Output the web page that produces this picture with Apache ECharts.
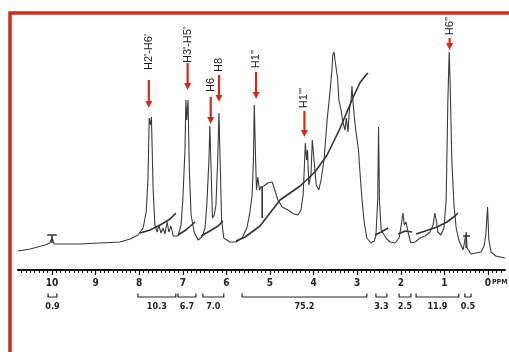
<!DOCTYPE html>
<html>
<head>
<meta charset="utf-8">
<script src="https://cdn.jsdelivr.net/npm/echarts@6/dist/echarts.min.js"></script>
<style>
html, body { margin: 0; padding: 0; background: #fff; }
#chart { width: 509px; height: 352px; }
</style>
</head>
<body>
<div id="chart"></div>
<script>
// 1H NMR trace, [ppm, intensity]
const spectrum = [
  [10.78, 19], [10.5, 21], [10.16, 25], [10.05, 27], [10.0, 32], [9.95, 26], [9.82, 26],
  [9.36, 26], [8.9, 27], [8.44, 28], [8.21, 31], [8.03, 35], [7.91, 42], [7.84, 58],
  [7.8, 90], [7.77, 152], [7.74, 145], [7.72, 153], [7.68, 80], [7.64, 45], [7.59, 38],
  [7.55, 45], [7.5, 37], [7.45, 42], [7.41, 36], [7.36, 48], [7.32, 38], [7.27, 44],
  [7.22, 34], [7.18, 32], [7.11, 34], [7.04, 45], [7.0, 70], [6.95, 120], [6.93, 170],
  [6.91, 150], [6.88, 170], [6.85, 100], [6.81, 55], [6.74, 38], [6.65, 30], [6.56, 33],
  [6.49, 42], [6.45, 65], [6.4, 110], [6.38, 144], [6.35, 100], [6.32, 52], [6.28, 55],
  [6.24, 65], [6.2, 110], [6.17, 157], [6.15, 120], [6.11, 50], [6.06, 32], [5.92, 28],
  [5.78, 28], [5.64, 32], [5.53, 42], [5.46, 58], [5.41, 75], [5.38, 110], [5.36, 165],
  [5.33, 110], [5.31, 80], [5.28, 93], [5.24, 80], [5.21, 83], [5.14, 84], [5.05, 87],
  [4.95, 88], [4.89, 80], [4.82, 70], [4.72, 63], [4.59, 60], [4.45, 56], [4.36, 55],
  [4.29, 60], [4.24, 75], [4.21, 105], [4.19, 127], [4.16, 110], [4.14, 120], [4.11, 85],
  [4.06, 95], [4.03, 130], [3.99, 110], [3.94, 85], [3.88, 80], [3.83, 90], [3.76, 110],
  [3.69, 150], [3.62, 180], [3.58, 200], [3.56, 215], [3.53, 218], [3.51, 210], [3.49, 212],
  [3.45, 192], [3.42, 170], [3.37, 160], [3.33, 148], [3.28, 140], [3.25, 152], [3.21, 138],
  [3.18, 160], [3.14, 170], [3.12, 184], [3.1, 170], [3.07, 155], [3.04, 142], [3.0, 140],
  [2.97, 120], [2.94, 100], [2.89, 70], [2.84, 48], [2.78, 32], [2.68, 27], [2.61, 29],
  [2.57, 35], [2.53, 70], [2.51, 143], [2.49, 70], [2.45, 40], [2.41, 42], [2.34, 32],
  [2.25, 28], [2.13, 27], [2.04, 32], [2.0, 42], [1.95, 57], [1.92, 45], [1.88, 48],
  [1.83, 37], [1.77, 27], [1.67, 28], [1.56, 32], [1.44, 34], [1.33, 38], [1.26, 45],
  [1.22, 57], [1.18, 48], [1.15, 38], [1.08, 35], [1.01, 42], [0.96, 70], [0.94, 120],
  [0.92, 170], [0.89, 218], [0.87, 190], [0.85, 150], [0.83, 110], [0.78, 65], [0.73, 42],
  [0.67, 30], [0.57, 20], [0.53, 22], [0.5, 38], [0.48, 22], [0.39, 16], [0.28, 17],
  [0.16, 18], [0.09, 24], [0.05, 35], [0.01, 63], [-0.02, 30], [-0.07, 18], [-0.18, 14],
  [-0.39, 12]
];

// integral trace pieces drawn over the spectrum
const integralSegments = [
  [[10.11, 35], [9.89, 35]],
  [[10.0, 35], [10.0, 27]],
  [[7.98, 37], [7.75, 40], [7.52, 45], [7.29, 51], [7.16, 57]],
  [[7.11, 35], [6.93, 40], [6.72, 48]],
  [[6.58, 34], [6.38, 39], [6.19, 44], [6.08, 49]],
  [[5.78, 29], [5.57, 33], [5.23, 44], [4.77, 70], [4.31, 84], [3.97, 98], [3.69, 115],
   [3.39, 142], [3.1, 172], [2.94, 187], [2.8, 195], [2.75, 197]],
  [[5.18, 83], [5.18, 52]],
  [[2.59, 35], [2.45, 38], [2.29, 42]],
  [[2.06, 36], [1.9, 39], [1.74, 38]],
  [[1.65, 36], [1.44, 39], [1.17, 43], [0.94, 48], [0.76, 54], [0.69, 57]],
  [[0.57, 34], [0.41, 34]],
  [[0.5, 34], [0.5, 22]]
];

const integralFrom = [10.09, 8.03, 7.11, 6.54, 5.64, 2.57, 2.04, 1.65, 0.53];
const integralTo = [9.89, 7.16, 6.7, 6.06, 2.78, 2.32, 1.77, 0.67, 0.39];
const integralValues = ['0.9', '10.3', '6.7', '7.0', '75.2', '3.3', '2.5', '11.9', '0.5'];

const peakLabels = ["H2'-H6'", "H3'-H5'", 'H6', 'H8', "H1''", "H1'''", "H6''"];
const peakPpm = [7.78, 6.89, 6.36, 6.17, 5.32, 4.21, 0.88];

const ppmTicks = [10, 9, 8, 7, 6, 5, 4, 3, 2, 1, 0];

// label centre / arrow start / arrow tip, in intensity units
const annoLayout = [
  [218, 190, 162],
  [225, 207, 180],
  [185, 173, 146],
  [205, 195, 168],
  [211, 198, 171],
  [172, 159, 133],
  [244, 232, 220]
];

const RED = '#d42a1a';
const SCALE_FONT = "'DejaVu Sans Condensed', 'DejaVu Sans', sans-serif";

const minorTicks = [];
for (let v = 107; v >= -3; v--) minorTicks.push(v / 10);

const chart = echarts.init(document.getElementById('chart'));

const integralSeries = integralSegments.map((seg) => ({
  type: 'line',
  data: seg,
  showSymbol: false,
  silent: true,
  lineStyle: { color: '#333', width: 1.6 },
  z: 3
}));

const option = {
  animation: false,
  backgroundColor: '#fff',
  grid: { left: 18, right: 4, top: 20, bottom: 82 },
  xAxis: [
    {
      type: 'value',
      inverse: true,
      min: -0.39,
      max: 10.78,
      axisLine: { lineStyle: { color: '#111', width: 2 } },
      axisTick: { customValues: ppmTicks, length: 5, lineStyle: { color: '#111', width: 1.2 } },
      axisLabel: {
        customValues: ppmTicks,
        margin: 8,
        color: '#222',
        fontFamily: SCALE_FONT,
        fontWeight: 'bold',
        fontSize: 10
      },
      splitLine: { show: false }
    },
    {
      type: 'value',
      inverse: true,
      position: 'bottom',
      min: -0.39,
      max: 10.78,
      axisLine: { show: false },
      axisTick: { customValues: minorTicks, length: 3, lineStyle: { color: '#111', width: 1 } },
      axisLabel: { show: false },
      splitLine: { show: false }
    }
  ],
  yAxis: { type: 'value', min: 0, max: 250, show: false },
  graphic: [
    {
      type: 'polyline',
      shape: { points: [[10, 352], [10, 13], [509, 13]] },
      style: { stroke: RED, lineWidth: 3.5, fill: null }
    },
    {
      type: 'text',
      left: 492,
      top: 279,
      style: { text: 'PPM', fill: '#222', font: "bold 7px 'DejaVu Sans Condensed', 'DejaVu Sans'" }
    }
  ],
  series: [
    {
      type: 'line',
      data: spectrum,
      showSymbol: false,
      silent: true,
      lineStyle: { color: '#3a3a3a', width: 1.1 },
      z: 2
    },
    ...integralSeries,
    {
      // integration brackets under the axis
      type: 'custom',
      silent: true,
      data: integralFrom.map((f, i) => [f, integralTo[i]]),
      encode: { x: [0, 1] },
      renderItem: (params, api) => {
        const a = api.coord([api.value(0), -27]);
        const b = api.coord([api.value(1), -27]);
        const up = api.coord([0, -23.5])[1];
        const ty = api.coord([0, -37])[1];
        return {
          type: 'group',
          children: [
            {
              type: 'polyline',
              shape: { points: [[a[0], up], [a[0], a[1]], [b[0], b[1]], [b[0], up]] },
              style: { stroke: '#222', lineWidth: 1.2, fill: null }
            },
            {
              type: 'text',
              x: (a[0] + b[0]) / 2,
              y: ty,
              style: {
                text: integralValues[params.dataIndex],
                fill: '#222',
                font: "bold 9px 'DejaVu Sans Condensed', 'DejaVu Sans'",
                align: 'center',
                verticalAlign: 'middle'
              }
            }
          ]
        };
      }
    },
    {
      // peak assignments with red arrows
      type: 'custom',
      silent: true,
      data: peakPpm.map((p) => [p, 0]),
      encode: { x: 0 },
      renderItem: (params, api) => {
        const i = params.dataIndex;
        const ppm = api.value(0);
        const lay = annoLayout[i];
        const p = api.coord([ppm, lay[0]]);
        const yTop = api.coord([ppm, lay[1]])[1];
        const yTip = api.coord([ppm, lay[2]])[1];
        const x = p[0];
        return {
          type: 'group',
          children: [
            {
              type: 'text',
              x: x,
              y: p[1],
              rotation: Math.PI / 2,
              style: {
                text: peakLabels[i],
                fill: '#1a1a1a',
                font: '11px "Liberation Sans"',
                align: 'center',
                verticalAlign: 'middle'
              }
            },
            {
              type: 'line',
              shape: { x1: x, y1: yTop, x2: x, y2: yTip - 5 },
              style: { stroke: RED, lineWidth: 2.2 }
            },
            {
              type: 'polygon',
              shape: { points: [[x - 3.5, yTip - 7], [x + 3.5, yTip - 7], [x, yTip]] },
              style: { fill: RED }
            }
          ]
        };
      }
    }
  ]
};

chart.setOption(option);
</script>
</body>
</html>
